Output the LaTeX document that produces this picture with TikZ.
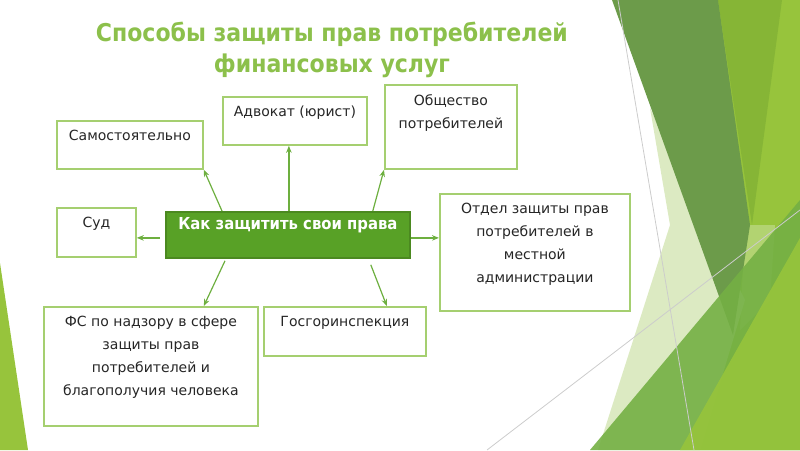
\documentclass[tikz,border=0pt]{standalone}
\usepackage{fontspec}
\setmainfont{DejaVu Sans}
\newfontfamily\condbold{DejaVu Sans Condensed Bold}
\usetikzlibrary{calc,arrows.meta}

\definecolor{ttlgreen}{HTML}{8CC04B}
\definecolor{boxgreen}{HTML}{A5CF70}
\definecolor{arrgreen}{HTML}{6DAF3F}
\definecolor{maingreen}{HTML}{58A126}
\definecolor{facetdark}{HTML}{6C9B4A}
\definecolor{facetmid}{HTML}{86B536}
\definecolor{facetbright}{HTML}{97C43C}
\definecolor{facetpale}{HTML}{DCEAC2}
\definecolor{facetmed}{HTML}{74B044}

\tikzset{
  box/.style={draw=boxgreen, line width=1.8pt, fill=white, inner sep=0pt, anchor=north west},
  boxtext/.style={anchor=north, align=center, inner sep=4pt, yshift=-6pt, text=black!85,
    font=\fontsize{14}{23}\selectfont},
  arr/.style={draw=arrgreen, line width=1.2pt, -{Stealth[length=7pt,width=5.5pt]}}
}

\begin{document}
\begin{tikzpicture}[x=1pt,y=-1pt]
				\useasboundingbox (0,0) rectangle (800,450);
				
				% background facets
				\begin{scope}
				\clip (0,0) rectangle (800,450);
				\fill[facetbright] (718,0) -- (800,0) -- (800,450) -- (640,450) -- cycle;
				\fill[facetmid] (718,0) -- (782,0) -- (752,225) -- cycle;
				\fill[facetpale] (650,108) -- (670,225) -- (598,450) -- (700,450) -- (745,300) -- cycle;
				\fill[facetpale, opacity=.4] (745,225) -- (775,225) -- (770,300) -- (740,330) -- cycle;
				\fill[facetdark] (612,0) -- (718,0) -- (750,225) -- (733,335) -- cycle;
				\fill[facetmed, opacity=.9] (590,450) -- (800,200) -- (800,450) -- cycle;
				\fill[facetbright, opacity=.9] (680,450) -- (800,238) -- (800,450) -- cycle;
				\fill[facetbright] (0,263) -- (28,450) -- (0,450) -- cycle;
				\draw[black!20, line width=.8pt] (618,0) -- (694,450);
				\draw[black!20, line width=.8pt] (487,450) -- (800,210);
				\end{scope}
				
				% title
				\node[anchor=north, align=center, inner sep=0pt, text=ttlgreen,
				      font=\condbold\fontsize{24.5}{31}\selectfont] (ttl) at (332,22)
				      {Способы защиты прав потребителей\\финансовых услуг};
				
				% boxes
				\node[box, minimum width=146, minimum height=48,
				      label={[boxtext]north:Самостоятельно}] (sam) at (56,120) {};
				\node[box, minimum width=144, minimum height=48,
				      label={[boxtext]north:Адвокат (юрист)}] (adv) at (222,96) {};
				\node[box, minimum width=132, minimum height=84,
				      label={[boxtext]north:Общество\\потребителей}] (obs) at (384,84) {};
				\node[box, minimum width=79, minimum height=49,
				      label={[boxtext]north:Суд}] (sud) at (56,207) {};
				\node[box, minimum width=190, minimum height=117,
				      label={[boxtext]north:Отдел защиты прав\\потребителей в\\местной\\администрации}] (otd) at (439,193) {};
				\node[box, minimum width=214, minimum height=119,
				      label={[boxtext]north:ФС по надзору в сфере\\защиты прав\\потребителей и\\благополучия человека}] (fs) at (43,306) {};
				\node[box, minimum width=162, minimum height=49,
				      label={[boxtext]north:Госгоринспекция}] (gos) at (263,306) {};
				\node[box, draw=maingreen!85!black, fill=maingreen, minimum width=244, minimum height=46,
				      label={[anchor=north, inner sep=4pt, yshift=-2pt, text=white, font=\condbold\fontsize{16.5}{20}\selectfont]north:Как защитить свои права}] (main) at (165,211) {};
				
				% arrows
				\draw[arr] ($(main.north west)+(57,0)$) -- (sam.south east);
				\coordinate (mt) at ($(main.north)+(1,0)$);
				\draw[arr] (mt) -- (mt |- adv.south);
				\draw[arr] ($(main.north east)+(-38,0)$) -- (obs.south west);
				\draw[arr] ($(main.west)+(-5,3)$) -- ($(sud.east)+(0,5.5)$);
				\coordinate (mr) at ($(main.east)+(0,3)$);
				\draw[arr] (mr) -- (mr -| otd.west);
				\draw[arr] ($(main.south west)+(60,2)$) -- ($(fs.north east)+(-55,0)$);
				\draw[arr] ($(main.south east)+(-40,6)$) -- ($(gos.north east)+(-40,0)$);
			\end{tikzpicture}
\end{document}
